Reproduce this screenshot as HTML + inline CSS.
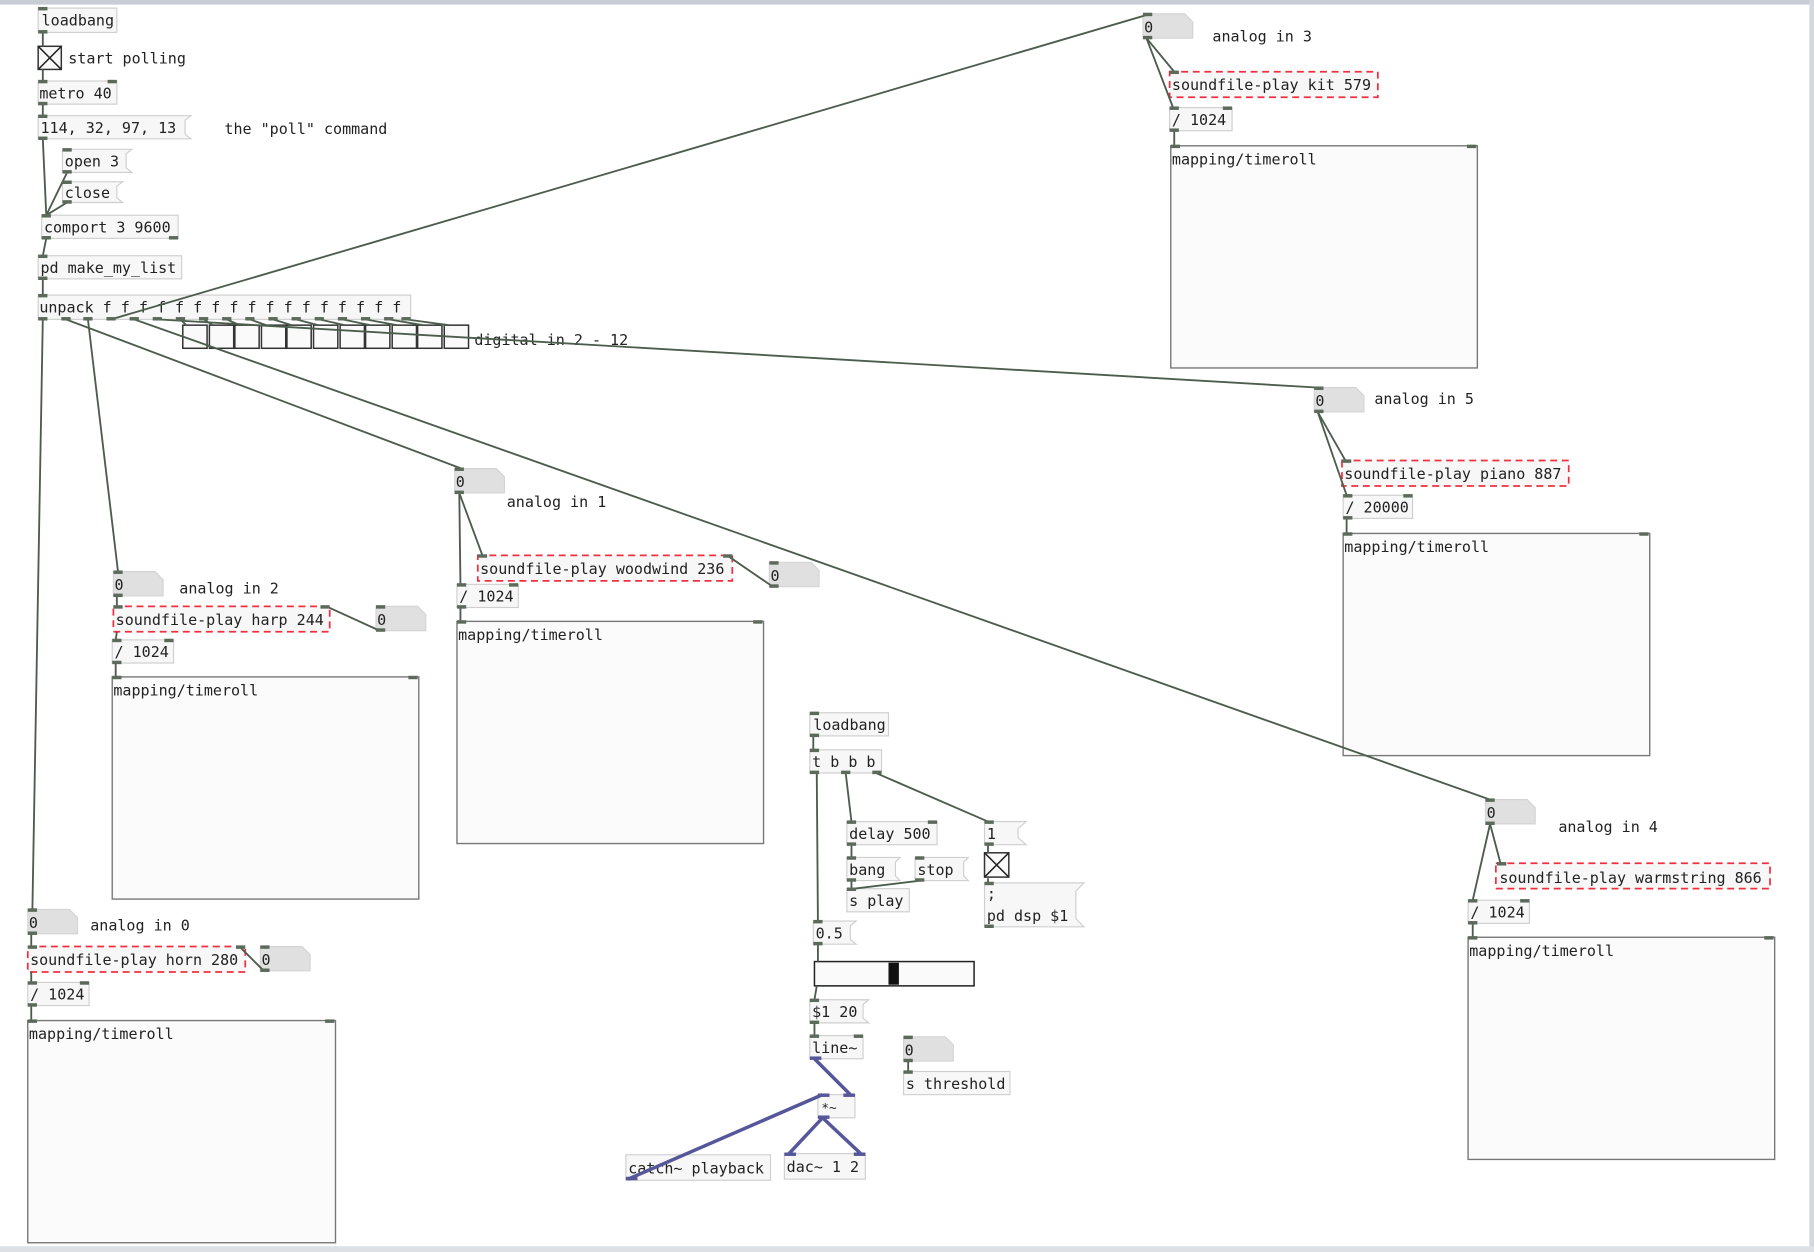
<!DOCTYPE html>
<html><head><meta charset="utf-8"><style>
html,body{margin:0;padding:0;background:#fff;}
svg{display:block}
text{font-family:"DejaVu Sans Mono","Liberation Mono",monospace;font-size:13px;fill:#222}
.b{fill:#f7f7f7;stroke:#cfcfcf;stroke-width:1}
.n{fill:#e0e0e0;stroke:#d4d4d4;stroke-width:1}
.sf{fill:#f7f7f7;stroke:#f03040;stroke-width:1.5;stroke-dasharray:6 4}
.tr{fill:#fbfbfb;stroke:#777;stroke-width:1.2}
.io{fill:#5c6a5c}
.c{stroke:#4d5d4d;stroke-width:1.6;fill:none}
.s{stroke:#56579a;stroke-width:3;fill:none}
.tg{fill:#fafafa;stroke:#333;stroke-width:1.3}
</style></head><body>
<svg width="1814" height="1252" viewBox="0 0 1568 1082" preserveAspectRatio="none" xmlns="http://www.w3.org/2000/svg">
<rect x="0" y="0" width="1568" height="1082" fill="#fff"/>
<rect x="0" y="0" width="1568" height="4" fill="#c9ced6"/>
<rect x="1564" y="0" width="4" height="1082" fill="#d4d8de"/>
<rect x="0" y="1077" width="1568" height="5" fill="#dde1e6"/>

<!-- top-left chain -->
<rect class="b" x="33" y="7" width="68" height="21"/><text x="36" y="22">loadbang</text>
<rect class="tg" x="33" y="40" width="20" height="20"/><path d="M33 40L53 60M53 40L33 60" stroke="#222" stroke-width="1.3"/>
<text x="59" y="55">start polling</text>
<rect class="b" x="33" y="70" width="68" height="20"/><text x="34" y="85">metro 40</text>
<path class="b" d="M33 100H165L160 104V116L165 120H33Z"/><text x="35" y="115">114, 32, 97, 13</text>
<text x="194" y="116">the "poll" command</text>
<path class="b" d="M54 129H114L109 133V145L114 149H54Z"/><text x="56" y="144">open 3</text>
<path class="b" d="M54 157H106L101 161V171L106 175H54Z"/><text x="56" y="171">close</text>
<rect class="b" x="36" y="186" width="118" height="20"/><text x="38" y="201">comport 3 9600</text>
<rect class="b" x="33" y="221" width="124" height="20"/><text x="35" y="236">pd make_my_list</text>
<rect class="b" x="33" y="255" width="322" height="21"/><text x="34" y="270">unpack f f f f f f f f f f f f f f f f f</text>
<g class="tg">
<rect x="158" y="281" width="21" height="20"/><rect x="181" y="281" width="21" height="20"/><rect x="203" y="281" width="21" height="20"/><rect x="226" y="281" width="21" height="20"/><rect x="248" y="281" width="21" height="20"/><rect x="271" y="281" width="21" height="20"/><rect x="294" y="281" width="21" height="20"/><rect x="316" y="281" width="21" height="20"/><rect x="339" y="281" width="21" height="20"/><rect x="361" y="281" width="21" height="20"/><rect x="384" y="281" width="21" height="20"/>
</g>
<text x="410" y="298">digital in 2 - 12</text>

<!-- analog 3 -->
<path class="n" d="M988 12H1024L1031 19V33H988Z"/><text x="989" y="28">0</text><text x="1048" y="36">analog in 3</text>
<rect class="sf" x="1011" y="62" width="180" height="22"/><text x="1013" y="78">soundfile-play kit 579</text>
<rect class="b" x="1011" y="93" width="54" height="20"/><text x="1013" y="108">/ 1024</text>
<rect class="tr" x="1012" y="126" width="265" height="192"/><text x="1013" y="142">mapping/timeroll</text>

<!-- analog 5 -->
<path class="n" d="M1136 335H1172L1179 342V356H1136Z"/><text x="1137" y="351">0</text><text x="1188" y="349">analog in 5</text>
<rect class="sf" x="1160" y="398" width="196" height="22"/><text x="1162" y="414">soundfile-play piano 887</text>
<rect class="b" x="1161" y="428" width="60" height="20"/><text x="1163" y="443">/ 20000</text>
<rect class="tr" x="1161" y="461" width="265" height="192"/><text x="1162" y="477">mapping/timeroll</text>

<!-- analog 1 -->
<path class="n" d="M393 405H429L436 412V426H393Z"/><text x="394" y="421">0</text><text x="438" y="438">analog in 1</text>
<rect class="sf" x="413" y="480" width="220" height="22"/><text x="415" y="496">soundfile-play woodwind 236</text>
<path class="n" d="M665 486H701L708 493V507H665Z"/><text x="666" y="502">0</text>
<rect class="b" x="395" y="505" width="53" height="20"/><text x="397" y="520">/ 1024</text>
<rect class="tr" x="395" y="537" width="265" height="192"/><text x="396" y="553">mapping/timeroll</text>

<!-- analog 2 -->
<path class="n" d="M98 494H134L141 501V515H98Z"/><text x="99" y="510">0</text><text x="155" y="513">analog in 2</text>
<rect class="sf" x="98" y="524" width="187" height="22"/><text x="100" y="540">soundfile-play harp 244</text>
<path class="n" d="M325 524H361L368 531V545H325Z"/><text x="326" y="540">0</text>
<rect class="b" x="97" y="553" width="53" height="20"/><text x="99" y="568">/ 1024</text>
<rect class="tr" x="97" y="585" width="265" height="192"/><text x="98" y="601">mapping/timeroll</text>

<!-- analog 0 -->
<path class="n" d="M24 786H60L67 793V807H24Z"/><text x="25" y="802">0</text><text x="78" y="804">analog in 0</text>
<rect class="sf" x="24" y="818" width="188" height="22"/><text x="26" y="834">soundfile-play horn 280</text>
<path class="n" d="M225 818H261L268 825V839H225Z"/><text x="226" y="834">0</text>
<rect class="b" x="24" y="849" width="53" height="20"/><text x="26" y="864">/ 1024</text>
<rect class="tr" x="24" y="882" width="266" height="192"/><text x="25" y="898">mapping/timeroll</text>

<!-- analog 4 -->
<path class="n" d="M1284 691H1320L1327 698V712H1284Z"/><text x="1285" y="707">0</text><text x="1347" y="719">analog in 4</text>
<rect class="sf" x="1293" y="746" width="237" height="22"/><text x="1296" y="763">soundfile-play warmstring 866</text>
<rect class="b" x="1269" y="778" width="53" height="20"/><text x="1271" y="793">/ 1024</text>
<rect class="tr" x="1269" y="810" width="265" height="192"/><text x="1270" y="826">mapping/timeroll</text>

<!-- dsp section -->
<rect class="b" x="700" y="616" width="68" height="20"/><text x="703" y="631">loadbang</text>
<rect class="b" x="700" y="648" width="62" height="20"/><text x="702" y="663">t b b b</text>
<rect class="b" x="732" y="710" width="78" height="20"/><text x="734" y="725">delay 500</text>
<path class="b" d="M732 741H778L774 745V757L778 761H732Z"/><text x="734" y="756">bang</text>
<path class="b" d="M791 741H837L833 745V757L837 761H791Z"/><text x="793" y="756">stop</text>
<rect class="b" x="732" y="768" width="54" height="20"/><text x="734" y="783">s play</text>
<path class="b" d="M851 710H887L880 716V724L887 730H851Z"/><text x="853" y="725">1</text>
<rect class="tg" x="851" y="737" width="21" height="21"/><path d="M851 737L872 758M872 737L851 758" stroke="#222" stroke-width="1.3"/>
<path class="b" d="M851 763H937L930 770V794L937 801H851Z"/><text x="853" y="777">;</text><text x="853" y="796">pd dsp $1</text>
<path class="b" d="M703 796H740L735 800V812L740 816H703Z"/><text x="705" y="811">0.5</text>
<rect x="704" y="831" width="138" height="21" fill="#fafafa" stroke="#222" stroke-width="1.3"/>
<rect x="768" y="832" width="9" height="19" fill="#111"/>
<path class="b" d="M700 864H751L746 868V880L751 884H700Z"/><text x="702" y="879">$1 20</text>
<rect class="b" x="700" y="895" width="46" height="20"/><text x="702" y="910">line~</text>
<path class="n" d="M781 896H817L824 903V917H781Z"/><text x="782" y="912">0</text>
<rect class="b" x="781" y="926" width="92" height="20"/><text x="783" y="941">s threshold</text>
<rect class="b" x="707" y="946" width="32" height="20"/><text x="710" y="961" style="font-size:11px">*~</text>
<rect class="b" x="541" y="998" width="125" height="22"/><text x="543" y="1014">catch~ playback</text>
<rect class="b" x="678" y="997" width="70" height="22"/><text x="680" y="1013">dac~ 1 2</text>

<!-- connections -->
<g class="c">
<line x1="37" y1="28" x2="37" y2="40"/><line x1="37" y1="60" x2="37" y2="70"/><line x1="37" y1="90" x2="37" y2="100"/>
<line x1="37" y1="120" x2="40" y2="186"/><line x1="58" y1="149" x2="40" y2="186"/><line x1="58" y1="175" x2="40" y2="186"/>
<line x1="40" y1="206" x2="37" y2="221"/><line x1="37" y1="241" x2="37" y2="255"/>
<line x1="37" y1="276" x2="28" y2="786"/>
<line x1="57" y1="276" x2="399" y2="405"/>
<line x1="76" y1="276" x2="102" y2="494"/>
<line x1="96" y1="276" x2="991" y2="13"/>
<line x1="116" y1="276" x2="1288" y2="691"/>
<line x1="136" y1="276" x2="1140" y2="335"/>
<line x1="156" y1="276" x2="161" y2="281"/><line x1="176" y1="276" x2="184" y2="281"/><line x1="196" y1="276" x2="207" y2="281"/><line x1="216" y1="276" x2="230" y2="281"/><line x1="236" y1="276" x2="252" y2="281"/><line x1="256" y1="276" x2="275" y2="281"/><line x1="276" y1="276" x2="298" y2="281"/><line x1="296" y1="276" x2="320" y2="281"/><line x1="316" y1="276" x2="343" y2="281"/><line x1="336" y1="276" x2="366" y2="281"/><line x1="351" y1="276" x2="388" y2="281"/>
<line x1="991" y1="33" x2="1015" y2="62"/><line x1="991" y1="33" x2="1014" y2="93"/><line x1="1015" y1="113" x2="1015" y2="126"/>
<line x1="1139" y1="356" x2="1163" y2="398"/><line x1="1139" y1="356" x2="1164" y2="428"/><line x1="1164" y1="448" x2="1164" y2="461"/>
<line x1="397" y1="426" x2="417" y2="480"/><line x1="397" y1="426" x2="398" y2="505"/><line x1="398" y1="525" x2="398" y2="537"/><line x1="668" y1="507" x2="630" y2="481"/>
<line x1="101" y1="515" x2="101" y2="524"/><line x1="101" y1="546" x2="100" y2="553"/><line x1="100" y1="573" x2="100" y2="585"/><line x1="328" y1="545" x2="282" y2="524"/>
<line x1="27" y1="807" x2="27" y2="818"/><line x1="27" y1="840" x2="27" y2="849"/><line x1="27" y1="869" x2="27" y2="882"/><line x1="228" y1="839" x2="208" y2="819"/>
<line x1="1288" y1="712" x2="1297" y2="746"/><line x1="1288" y1="712" x2="1273" y2="778"/><line x1="1273" y1="798" x2="1273" y2="810"/>
<line x1="703" y1="636" x2="703" y2="648"/>
<line x1="706" y1="668" x2="707" y2="796"/>
<line x1="731" y1="668" x2="736" y2="710"/>
<line x1="757" y1="668" x2="854" y2="710"/>
<line x1="736" y1="730" x2="736" y2="741"/>
<line x1="736" y1="761" x2="736" y2="768"/><line x1="796" y1="761" x2="738" y2="768"/>
<line x1="854" y1="730" x2="854" y2="737"/><line x1="854" y1="759" x2="854" y2="763"/>
<line x1="707" y1="816" x2="707" y2="831"/><line x1="706" y1="852" x2="704" y2="864"/><line x1="704" y1="884" x2="704" y2="895"/>
<line x1="785" y1="917" x2="785" y2="926"/>
</g>
<g class="s">
<line x1="704" y1="915" x2="735" y2="946"/>
<line x1="543" y1="1019" x2="711" y2="946"/>
<line x1="711" y1="966" x2="682" y2="997"/>
<line x1="711" y1="966" x2="744" y2="997"/>
</g>

<!-- inlets/outlets -->
<g class="io">
<rect x="33" y="6" width="8" height="3"/><rect x="33" y="26" width="8" height="3"/>
<rect x="33" y="69" width="8" height="3"/><rect x="93" y="69" width="8" height="3"/><rect x="33" y="88" width="8" height="3"/>
<rect x="33" y="99" width="8" height="3"/><rect x="33" y="118" width="8" height="3"/>
<rect x="54" y="128" width="8" height="3"/><rect x="54" y="147" width="8" height="3"/>
<rect x="54" y="156" width="8" height="3"/><rect x="54" y="173" width="8" height="3"/>
<rect x="36" y="185" width="8" height="3"/><rect x="36" y="204" width="8" height="3"/><rect x="146" y="204" width="8" height="3"/>
<rect x="33" y="220" width="8" height="3"/><rect x="33" y="239" width="8" height="3"/>
<rect x="33" y="254" width="8" height="3"/>
<rect x="33" y="274" width="8" height="3"/><rect x="53" y="274" width="8" height="3"/><rect x="72" y="274" width="8" height="3"/><rect x="92" y="274" width="8" height="3"/><rect x="112" y="274" width="8" height="3"/><rect x="132" y="274" width="8" height="3"/><rect x="152" y="274" width="8" height="3"/><rect x="172" y="274" width="8" height="3"/><rect x="192" y="274" width="8" height="3"/><rect x="212" y="274" width="8" height="3"/><rect x="232" y="274" width="8" height="3"/><rect x="252" y="274" width="8" height="3"/><rect x="272" y="274" width="8" height="3"/><rect x="292" y="274" width="8" height="3"/><rect x="312" y="274" width="8" height="3"/><rect x="332" y="274" width="8" height="3"/><rect x="347" y="274" width="8" height="3"/>
<rect x="988" y="11" width="8" height="3"/><rect x="988" y="31" width="8" height="3"/>
<rect x="1011" y="61" width="8" height="3"/><rect x="1011" y="92" width="8" height="3"/><rect x="1057" y="92" width="8" height="3"/><rect x="1011" y="111" width="8" height="3"/><rect x="1012" y="125" width="8" height="3"/><rect x="1268" y="125" width="8" height="3"/>
<rect x="1136" y="334" width="8" height="3"/><rect x="1136" y="354" width="8" height="3"/>
<rect x="1160" y="397" width="8" height="3"/><rect x="1161" y="427" width="8" height="3"/><rect x="1213" y="427" width="8" height="3"/><rect x="1161" y="446" width="8" height="3"/><rect x="1161" y="460" width="8" height="3"/><rect x="1417" y="460" width="8" height="3"/>
<rect x="393" y="404" width="8" height="3"/><rect x="393" y="424" width="8" height="3"/>
<rect x="413" y="479" width="8" height="3"/><rect x="625" y="479" width="8" height="3"/><rect x="665" y="485" width="8" height="3"/><rect x="665" y="505" width="8" height="3"/>
<rect x="395" y="504" width="8" height="3"/><rect x="440" y="504" width="8" height="3"/><rect x="395" y="523" width="8" height="3"/><rect x="395" y="536" width="8" height="3"/><rect x="651" y="536" width="8" height="3"/>
<rect x="98" y="493" width="8" height="3"/><rect x="98" y="513" width="8" height="3"/>
<rect x="98" y="523" width="8" height="3"/><rect x="277" y="523" width="8" height="3"/><rect x="325" y="523" width="8" height="3"/><rect x="325" y="543" width="8" height="3"/>
<rect x="97" y="552" width="8" height="3"/><rect x="142" y="552" width="8" height="3"/><rect x="97" y="571" width="8" height="3"/><rect x="97" y="584" width="8" height="3"/><rect x="353" y="584" width="8" height="3"/>
<rect x="24" y="785" width="8" height="3"/><rect x="24" y="805" width="8" height="3"/>
<rect x="24" y="817" width="8" height="3"/><rect x="204" y="817" width="8" height="3"/><rect x="225" y="817" width="8" height="3"/><rect x="225" y="837" width="8" height="3"/>
<rect x="24" y="848" width="8" height="3"/><rect x="69" y="848" width="8" height="3"/><rect x="24" y="867" width="8" height="3"/><rect x="24" y="881" width="8" height="3"/><rect x="281" y="881" width="8" height="3"/>
<rect x="1284" y="690" width="8" height="3"/><rect x="1284" y="710" width="8" height="3"/>
<rect x="1294" y="745" width="8" height="3"/><rect x="1269" y="777" width="8" height="3"/><rect x="1314" y="777" width="8" height="3"/><rect x="1269" y="796" width="8" height="3"/><rect x="1269" y="809" width="8" height="3"/><rect x="1525" y="809" width="8" height="3"/>
<rect x="700" y="615" width="8" height="3"/><rect x="700" y="634" width="8" height="3"/>
<rect x="700" y="647" width="8" height="3"/><rect x="700" y="666" width="8" height="3"/><rect x="727" y="666" width="8" height="3"/><rect x="754" y="666" width="8" height="3"/>
<rect x="732" y="709" width="8" height="3"/><rect x="802" y="709" width="8" height="3"/><rect x="732" y="728" width="8" height="3"/>
<rect x="732" y="740" width="8" height="3"/><rect x="732" y="759" width="8" height="3"/><rect x="791" y="740" width="8" height="3"/><rect x="791" y="759" width="8" height="3"/>
<rect x="732" y="767" width="8" height="3"/>
<rect x="851" y="709" width="8" height="3"/><rect x="851" y="728" width="8" height="3"/><rect x="851" y="762" width="8" height="3"/><rect x="851" y="799" width="8" height="3"/>
<rect x="703" y="795" width="8" height="3"/><rect x="703" y="814" width="8" height="3"/>
<rect x="700" y="863" width="8" height="3"/><rect x="700" y="882" width="8" height="3"/>
<rect x="700" y="894" width="8" height="3"/><rect x="738" y="894" width="8" height="3"/>
<rect x="781" y="895" width="8" height="3"/><rect x="781" y="915" width="8" height="3"/><rect x="781" y="925" width="8" height="3"/>
</g>
<g fill="#56579a">
<rect x="700" y="913" width="10" height="3"/><rect x="707" y="945" width="10" height="3"/><rect x="729" y="945" width="10" height="3"/><rect x="707" y="964" width="10" height="3"/>
<rect x="541" y="1017" width="10" height="3"/><rect x="678" y="996" width="10" height="3"/><rect x="738" y="996" width="10" height="3"/>
</g>
</svg>
</body></html>
